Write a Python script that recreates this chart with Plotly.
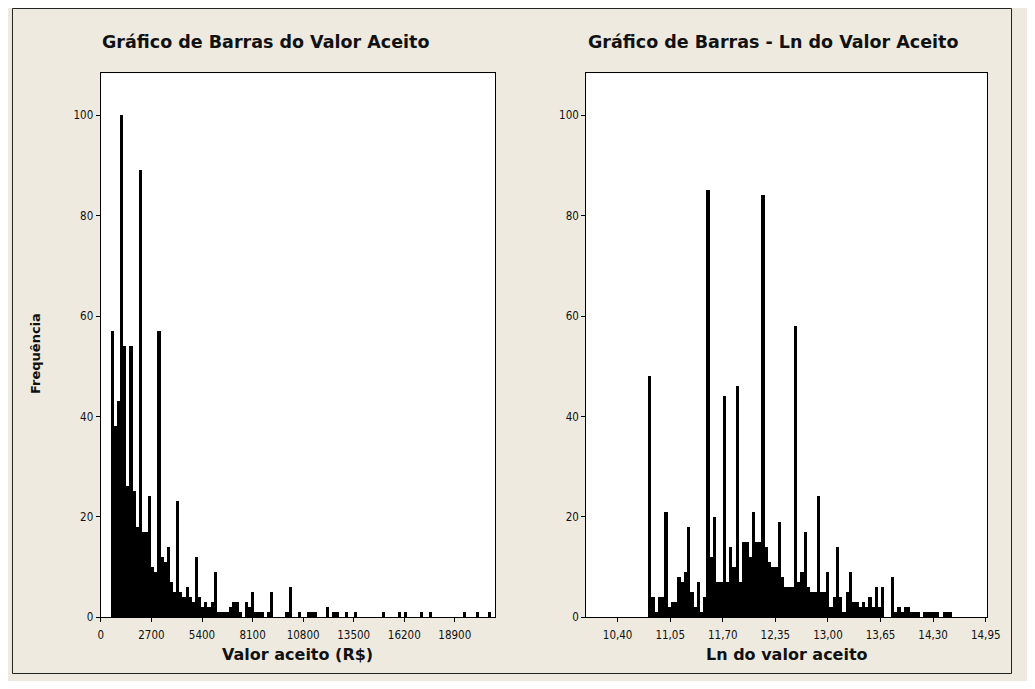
import plotly.graph_objects as go

# page is 1035x689 with the browser's default 8px body margin -> figure 1019x673
OFF = 8
W, H = 1035 - 2 * OFF, 689 - 2 * OFF

# ---------------- data ----------------
# Left histogram: "Valor aceito (R$)" bins of width 1000/6 starting at 0
left_bin_start = 0.0
left_bin_width = 1000.0 / 6.0
left_counts = [
    0, 0, 0, 57, 38, 43, 100, 54, 26, 54,
    25, 18, 89, 17, 17, 24, 10, 9, 57, 12,
    11, 14, 7, 5, 23, 5, 4, 6, 4, 3,
    12, 4, 2, 3, 2, 3, 9, 1, 1, 1,
    1, 2, 3, 3, 1, 0, 3, 2, 5, 1,
    1, 1, 0, 1, 5, 0, 0, 0, 0, 1,
    6, 0, 0, 1, 0, 0, 1, 1, 1, 0,
    0, 0, 2, 0, 1, 1, 0, 0, 1, 0,
    0, 1, 0, 0, 0, 0, 0, 0, 0, 0,
    1, 0, 0, 0, 0, 1, 0, 1, 0, 0,
    0, 0, 1, 0, 0, 1, 0, 0, 0, 0,
    0, 0, 0, 0, 0, 0, 1, 0, 0, 0,
    1, 0, 0, 0, 1, 0,
]
left_ticks = [0, 2700, 5400, 8100, 10800, 13500, 16200, 18900]
left_ticklabels = ["0", "2700", "5400", "8100", "10800", "13500", "16200", "18900"]

# Right histogram: "Ln do valor aceito" bins of width 0.04 starting at 10.78
right_bin_start = 10.78
right_bin_width = 0.04
right_counts = [
    48, 4, 1, 4, 4, 21, 2, 3, 3, 8,
    7, 9, 18, 5, 2, 7, 1, 4, 85, 12,
    20, 7, 7, 44, 7, 14, 10, 46, 7, 15,
    15, 12, 21, 15, 15, 84, 14, 11, 10, 10,
    19, 8, 6, 6, 6, 58, 7, 9, 17, 6,
    5, 5, 24, 5, 5, 9, 2, 4, 14, 4,
    1, 5, 9, 3, 3, 2, 3, 2, 4, 2,
    6, 2, 6, 0, 0, 8, 1, 2, 1, 2,
    2, 1, 1, 1, 0, 1, 1, 1, 1, 1,
    0, 1, 1, 1,
]
right_ticks = [10.40, 11.05, 11.70, 12.35, 13.00, 13.65, 14.30, 14.95]
right_ticklabels = ["10,40", "11,05", "11,70", "12,35", "13,00", "13,65", "14,30", "14,95"]

y_ticks = [0, 20, 40, 60, 80, 100]

title_left = "Gráfico de Barras do Valor Aceito"
title_right = "Gráfico de Barras - Ln do Valor Aceito"
xlabel_left = "Valor aceito (R$)"
xlabel_right = "Ln do valor aceito"
ylabel = "Frequência"

# ---------------- layout helpers (page pixel -> paper) ----------------
def px_x(p):
    return (p - OFF) / W

def px_y(p):
    return 1 - (p - OFF) / H

FONT_T = "'DejaVu Sans', Verdana, sans-serif"
FONT_TICK = "Tahoma, 'DejaVu Sans Condensed', 'DejaVu Sans', sans-serif"
TXT = "#111111"
BG = "#EEEADF"

left_centers = [left_bin_start + left_bin_width * (i + 0.5) for i in range(len(left_counts))]
right_centers = [right_bin_start + right_bin_width * (i + 0.5) for i in range(len(right_counts))]

fig = go.Figure()
fig.add_trace(go.Bar(x=left_centers, y=left_counts, width=left_bin_width,
                     marker=dict(color="black", line=dict(width=0)),
                     xaxis="x", yaxis="y", hoverinfo="x+y"))
fig.add_trace(go.Bar(x=right_centers, y=right_counts, width=right_bin_width,
                     marker=dict(color="black", line=dict(width=0)),
                     xaxis="x2", yaxis="y2", hoverinfo="x+y"))

plot_top, plot_bot = 74, 623.6
ydom = [px_y(plot_bot), px_y(plot_top)]

axis_common = dict(showline=True, linecolor="black", linewidth=1, mirror=True,
                   showgrid=False, zeroline=False, ticks="outside", ticklen=4,
                   tickcolor="black", tickwidth=1,
                   tickfont=dict(family=FONT_TICK, size=11.5, color=TXT))

fig.update_layout(
    width=W, height=H,
    margin=dict(l=0, r=0, t=0, b=0),
    paper_bgcolor=BG, plot_bgcolor="white",
    bargap=0, showlegend=False,
    xaxis=dict(domain=[px_x(99), px_x(500)], range=[-16, 21060], ticklabelstandoff=3,
               tickvals=left_ticks, ticktext=left_ticklabels, anchor="y", **axis_common),
    yaxis=dict(domain=ydom, range=[0, 108.4], tickvals=y_ticks, anchor="x", **axis_common),
    xaxis2=dict(domain=[px_x(592.3), px_x(1000)], range=[10.011, 14.971], ticklabelstandoff=3,
                tickvals=right_ticks, ticktext=right_ticklabels, anchor="y2", **axis_common),
    yaxis2=dict(domain=ydom, range=[0, 108.4], tickvals=y_ticks, anchor="x2", **axis_common),
)

ann = []
ann.append(dict(text="<b>%s</b>" % title_left, x=px_x(98), y=px_y(42), xref="paper", yref="paper",
                xanchor="left", yanchor="middle", showarrow=False,
                font=dict(family=FONT_T, size=17.5, color=TXT)))
ann.append(dict(text="<b>%s</b>" % title_right, x=px_x(592), y=px_y(42), xref="paper", yref="paper",
                xanchor="left", yanchor="middle", showarrow=False,
                font=dict(family=FONT_T, size=17.5, color=TXT)))
ann.append(dict(text="<b>%s</b>" % xlabel_left, x=px_x(299.5), y=px_y(661), xref="paper", yref="paper",
                xanchor="center", yanchor="middle", showarrow=False,
                font=dict(family=FONT_T, size=16, color=TXT)))
ann.append(dict(text="<b>%s</b>" % xlabel_right, x=px_x(796), y=px_y(661), xref="paper", yref="paper",
                xanchor="center", yanchor="middle", showarrow=False,
                font=dict(family=FONT_T, size=16, color=TXT)))
ann.append(dict(text="<b>%s</b>" % ylabel, x=px_x(33), y=px_y(357), xref="paper", yref="paper",
                xanchor="center", yanchor="middle", showarrow=False, textangle=-90,
                font=dict(family=FONT_T, size=13, color=TXT)))
fig.update_layout(annotations=ann)

fig.add_shape(type="rect", xref="paper", yref="paper",
              x0=px_x(9.5), x1=px_x(1024.5), y0=px_y(680.5), y1=px_y(8.5),
              line=dict(color="#222222", width=1), fillcolor="rgba(0,0,0,0)", layer="above")

fig.write_html("out.html", config={"displayModeBar": False, "responsive": False})
